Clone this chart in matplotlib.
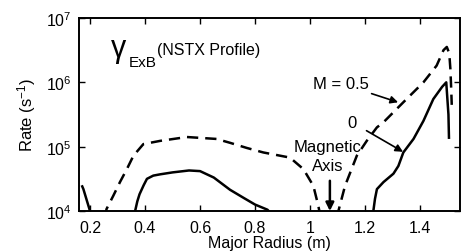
import matplotlib
matplotlib.use("Agg")
import matplotlib.pyplot as plt
import numpy as np

plt.rcParams['font.family'] = ['Liberation Sans', 'DejaVu Sans']
plt.rcParams['mathtext.fontset'] = 'custom'
plt.rcParams['mathtext.rm'] = 'Liberation Sans'
plt.rcParams['mathtext.it'] = 'Liberation Sans:italic'

# M = 0 (solid) segments: (radius, log10 rate)
m0_seg1_r = [0.170, 0.176, 0.200, 0.205]
m0_seg1_v = [4.40, 4.34, 4.00, 3.90]
m0_seg2_r = [0.355, 0.364, 0.372, 0.380, 0.395, 0.407, 0.430, 0.455, 0.500, 0.560, 0.600, 0.650, 0.709, 0.760, 0.800, 0.845, 0.860]
m0_seg2_v = [3.80, 4.00, 4.15, 4.26, 4.40, 4.50, 4.55, 4.57, 4.60, 4.63, 4.62, 4.52, 4.33, 4.20, 4.10, 4.02, 3.95]
m0_seg3_r = [1.226, 1.230, 1.236, 1.243, 1.267, 1.303, 1.321, 1.339, 1.376, 1.412, 1.448, 1.480, 1.495, 1.503, 1.505]
m0_seg3_v = [3.90, 4.00, 4.19, 4.34, 4.45, 4.58, 4.70, 4.91, 5.12, 5.40, 5.74, 5.93, 6.00, 5.50, 5.12]

# M = 0.5 (dashed) segments
m5_seg1_r = [0.255, 0.260, 0.285, 0.309, 0.335, 0.358, 0.394, 0.455, 0.552, 0.660, 0.709, 0.770, 0.830, 0.927, 0.976, 1.012, 1.030, 1.036]
m5_seg1_v = [3.90, 4.03, 4.24, 4.45, 4.66, 4.86, 5.04, 5.09, 5.15, 5.12, 5.06, 4.98, 4.91, 4.83, 4.65, 4.39, 4.08, 3.95]
m5_seg2_r = [1.098, 1.103, 1.127, 1.170, 1.206, 1.243, 1.267, 1.339, 1.412, 1.460, 1.485, 1.497, 1.506, 1.510, 1.513, 1.515]
m5_seg2_v = [3.90, 4.00, 4.39, 4.86, 5.09, 5.30, 5.38, 5.69, 6.00, 6.26, 6.50, 6.55, 6.45, 6.21, 5.90, 5.65]

x_ticks = [0.2, 0.4, 0.6, 0.8, 1.0, 1.2, 1.4]
x_tick_labels = ['0.2', '0.4', '0.6', '0.8', '1', '1.2', '1.4']
y_ticks = [1e4, 1e5, 1e6, 1e7]
y_tick_labels = ['10$^4$', '10$^5$', '10$^6$', '10$^7$']

W, H = 463, 253
fig = plt.figure(figsize=(W / 100, H / 100), dpi=100)
ax = fig.add_axes([79 / W, 1 - 212 / H, (460 - 79) / W, (212 - 19) / H])

for r, v in [(m0_seg1_r, m0_seg1_v), (m0_seg2_r, m0_seg2_v), (m0_seg3_r, m0_seg3_v)]:
    ax.plot(r, 10 ** np.array(v), color='black', lw=1.8, solid_capstyle='butt')
for r, v in [(m5_seg1_r, m5_seg1_v), (m5_seg2_r, m5_seg2_v)]:
    ax.plot(r, 10 ** np.array(v), color='black', lw=1.8, dashes=(4.5, 2.8))

ax.set_yscale('log')
ax.set_xlim(0.16, 1.545)
ax.set_ylim(1e4, 1e7)
ax.set_xticks(x_ticks)
ax.set_xticklabels(x_tick_labels)
ax.set_yticks(y_ticks)
ax.set_yticklabels(y_tick_labels)
ax.yaxis.set_minor_locator(matplotlib.ticker.NullLocator())
ax.tick_params(direction='in', top=True, right=True, length=4, width=1)
ax.tick_params(axis='x', pad=6.5, labelsize=11.5)
ax.tick_params(axis='y', pad=5, labelsize=11.5)
for s in ax.spines.values():
    s.set_linewidth(1.4)

ax.set_xlabel('Major Radius (m)', fontsize=11.5, labelpad=0)
ax.set_ylabel('Rate (s$^{-1}$)', fontsize=12, labelpad=6)

def px(x, y):
    return x / W, 1 - y / H

fig.text(*px(111, 57), 'γ', fontsize=22, ha='left', va='baseline')
fig.text(*px(129, 67), 'ExB', fontsize=11, ha='left', va='baseline')
fig.text(*px(157, 55), '(NSTX Profile)', fontsize=11.5, ha='left', va='baseline')

ax.annotate('M = 0.5', xy=(1.32, 10 ** 5.69), xytext=(1.112, 10 ** 5.98),
            fontsize=12, ha='center', va='center',
            arrowprops=dict(arrowstyle='-|>', color='black', lw=1.2, mutation_scale=11,
                            shrinkA=22, shrinkB=0))
ax.annotate('0', xy=(1.338, 10 ** 4.92), xytext=(1.152, 10 ** 5.38),
            fontsize=12, ha='center', va='center',
            arrowprops=dict(arrowstyle='-|>', color='black', lw=1.2, mutation_scale=11,
                            shrinkA=6, shrinkB=0))
ax.text(1.065, 10 ** 5.01, 'Magnetic', fontsize=12, ha='center', va='center')
ax.text(1.065, 10 ** 4.70, 'Axis', fontsize=12, ha='center', va='center')
ax.annotate('', xy=(1.072, 1e4), xytext=(1.072, 10 ** 4.47),
            arrowprops=dict(arrowstyle='-|>', color='black', lw=1.8, mutation_scale=12,
                            shrinkA=0, shrinkB=0))

fig.savefig('out.png', dpi=100)
